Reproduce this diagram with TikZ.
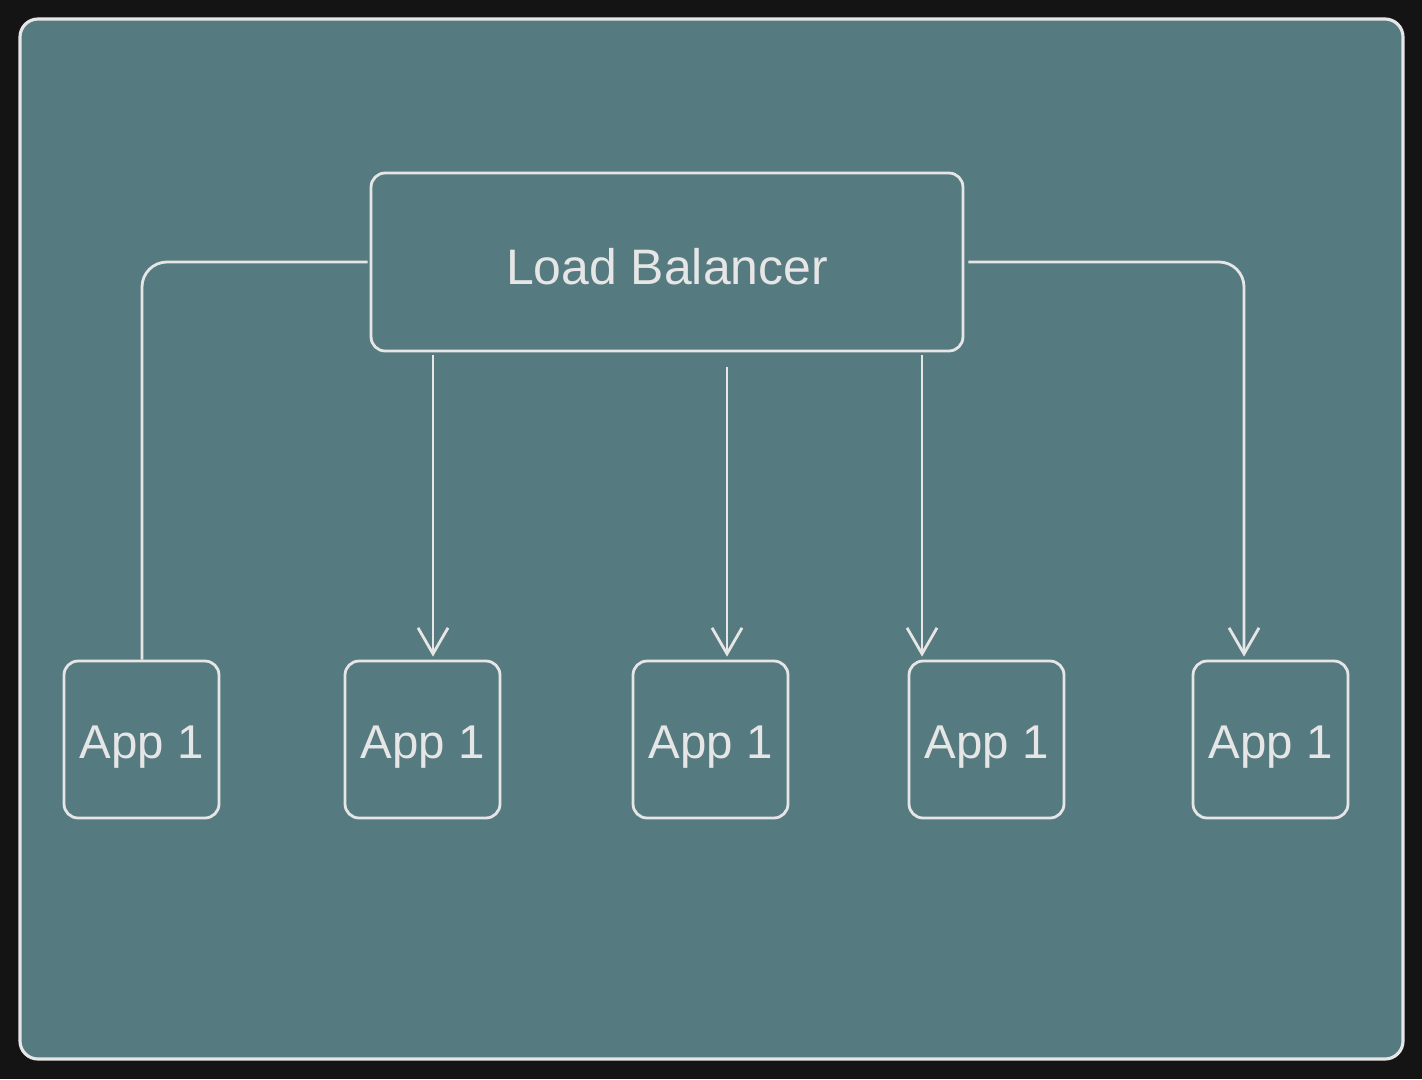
\documentclass[tikz,border=0pt]{standalone}
\usepackage{fontspec}
\setmainfont{Liberation Sans}
\usepackage{xcolor}
\usetikzlibrary{positioning,calc,arrows.meta}

\begin{document}
\begin{tikzpicture}[
    x=0.02cm, y=-0.02cm,
    font=\fontsize{27}{32}\selectfont,
    box/.style={draw=strokecol, line width=1.6pt, rectangle, rounded corners=0.28cm,
                text=strokecol, inner sep=0pt},
    lbbox/.style={box, minimum width=11.84cm, minimum height=3.56cm,
                  font=\fontsize{28.4}{34}\selectfont, text height=0.88cm, text depth=0cm},
    appbox/.style={box, minimum width=3.10cm, minimum height=3.14cm,
                   text height=0.95cm, text depth=0.19cm},
    flow/.style={-{Straight Barb[length=0.52cm,width=0.6cm,line width=1.6pt]},
                 draw=strokecol, line width=1.6pt, rounded corners=0.5cm},
    link/.style={draw=strokecol, line width=1.6pt, rounded corners=0.5cm},
    panel/.style={draw=strokecol, fill=panelfill, line width=1.8pt,
                  rounded corners=0.36cm},
  ]
  \definecolor{bgdark}{HTML}{141414}
  \definecolor{panelfill}{HTML}{557A80}
  \definecolor{strokecol}{HTML}{E6E6E6}

  % ========================= FONDO ===========================
  \fill[bgdark] (0,0) rectangle (1422,1079);
  \useasboundingbox (0,0) rectangle (1422,1079);
  \draw[panel] (20,19) rectangle (1403,1059);

  % ====================== BALANCEADOR ========================
  \node[lbbox] (lb) at (667,262) {Load Balancer};

  % ======================== APLICACIONES =====================
  \node[appbox] (a1) at (141.5,739.5) {App 1};
  \node[appbox] (a2) at (422.5,739.5) {App 1};
  \node[appbox] (a3) at (710.5,739.5) {App 1};
  \node[appbox] (a4) at (986.5,739.5) {App 1};
  \node[appbox] (a5) at (1270.5,739.5) {App 1};

  % Puntos de llegada de las flechas
  \coordinate (t1) at ([xshift=0.01cm]a1.north);
  \coordinate (t2) at ([xshift=0.21cm, yshift=0.06cm]a2.north);
  \coordinate (t3) at ([xshift=0.33cm, yshift=0.06cm]a3.north);
  \coordinate (t4) at ([xshift=-1.29cm, yshift=0.06cm]a4.north);
  \coordinate (t5) at ([xshift=-0.53cm, yshift=0.06cm]a5.north);

  % ========================== FLECHAS ========================
  % Salidas laterales con codo
  \draw[link] ([xshift=-0.04cm]lb.west) -| (t1);
  \draw[flow] ([xshift=0.08cm]lb.east) -| (t5);
  % Salidas verticales desde el borde inferior
  \draw[flow] ([yshift=-0.06cm]lb.south -| t2) -- (t2);
  \draw[flow] ([yshift=-0.30cm]lb.south -| t3) -- (t3);
  \draw[flow] ([yshift=-0.06cm]lb.south -| t4) -- (t4);
\end{tikzpicture}
\end{document}
